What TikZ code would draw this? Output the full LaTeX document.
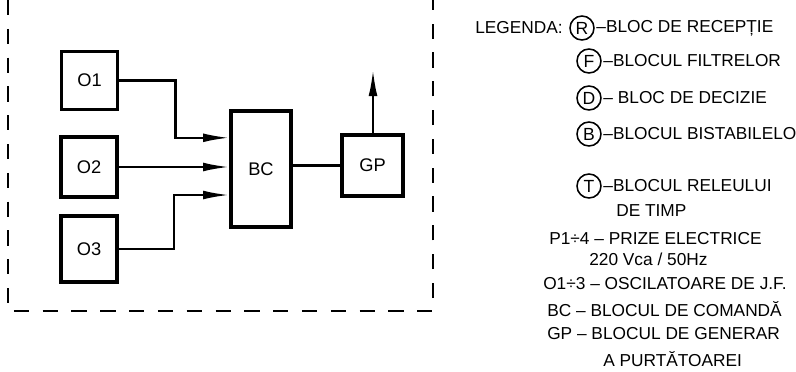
\documentclass[tikz,border=0pt]{standalone}
\usepackage{fontspec}
\setmainfont{Liberation Sans}
\newfontfamily\legfont{Liberation Sans}
\usetikzlibrary{arrows.meta}

\begin{document}
\begin{tikzpicture}[x=0.025cm, y=0.025cm,
  block/.style={draw=black, line width=2.8pt, inner sep=0pt,
    minimum width=1.4cm, minimum height=1.45cm, font=\fontsize{13}{15}\selectfont},
  wire/.style={draw=black, line width=1.5pt},
  link/.style={wire, -{Latex[length=6.5mm, width=2.2mm]}},
  frame/.style={draw=black, line width=1.8pt, dash pattern=on 0.38cm off 0.34cm},
  key/.style={circle, draw=black, line width=1.1pt, minimum size=0.6cm, inner sep=0pt,
    font=\fontsize{12.5}{14}\selectfont},
  legtext/.style={font=\legfont\fontsize{12.3}{14}\selectfont, inner sep=0pt, anchor=west},
]
\useasboundingbox (0,0) rectangle (796,371);

% the oscillators, the control block and the carrier generator
\node[block] (o1) at (89.5,290.5) {O1};
\node[block, minimum height=1.5cm] (o2) at (89,204) {O2};
\node[block, minimum height=1.65cm] (o3) at (89,122) {O3};
\node[block, minimum width=1.5cm, minimum height=2.9cm] (bc) at (261,202) {BC};
\node[block, minimum width=1.52cm, minimum height=1.52cm] (gp) at (372.5,205.5) {GP};
\coordinate (out) at (373,301);

\draw[link] (o1.east) -- ++(56,0) |- ([yshift=0.78cm]bc.west);
\draw[link] (o2.east) -- (o2.east -| bc.west);
\draw[link] (o3.east) -- ++(55,0) |- ([yshift=-0.65cm]bc.west);
\draw[wire] (gp.west -| bc.east) -- (gp.west);
\draw[link] (gp.north -| out) -- (out);

% open frame, its top edge is cut off by the page
\draw[frame] (8,371) -- (8,60) -- (433,60) -- (433,371);

% legend
\node[legtext] (leg) at (475,343) {LEGENDA:};
\node[key] (kr) at (582,343) {R};
\node[legtext] (tr) at ([xshift=1pt]kr.east) {–BLOC DE RECEPȚIE};
\node[key] (kf) at (589,310) {F};
\node[legtext] (tf) at ([xshift=1pt]kf.east) {–BLOCUL FILTRELOR};
\node[key] (kd) at (589,273) {D};
\node[legtext] (td) at ([xshift=1pt]kd.east) {– BLOC DE DECIZIE};
\node[key] (kb) at (589,237) {B};
\node[legtext] (tb) at ([xshift=1pt]kb.east) {–BLOCUL BISTABILELO};
\node[key] (kt) at (589,185) {T};
\node[legtext] (tt) at ([xshift=1pt]kt.east) {–BLOCUL RELEULUI};
\node[legtext] (tt2) at (616,160) {DE TIMP};
\node[legtext] (tp) at (549,132) {P1÷4 – PRIZE ELECTRICE};
\node[legtext] (tp2) at (589,112) {220 Vca / 50Hz};
\node[legtext] (to) at (543,87) {O1÷3 – OSCILATOARE DE J.F.};
\node[legtext] (tbc) at (547,62) {BC – BLOCUL DE COMANDĂ};
\node[legtext] (tgp) at (547,37) {GP – BLOCUL DE GENERAR};
\node[legtext] (tgp2) at (603,12) {A PURTĂTOAREI};
\end{tikzpicture}
\end{document}
